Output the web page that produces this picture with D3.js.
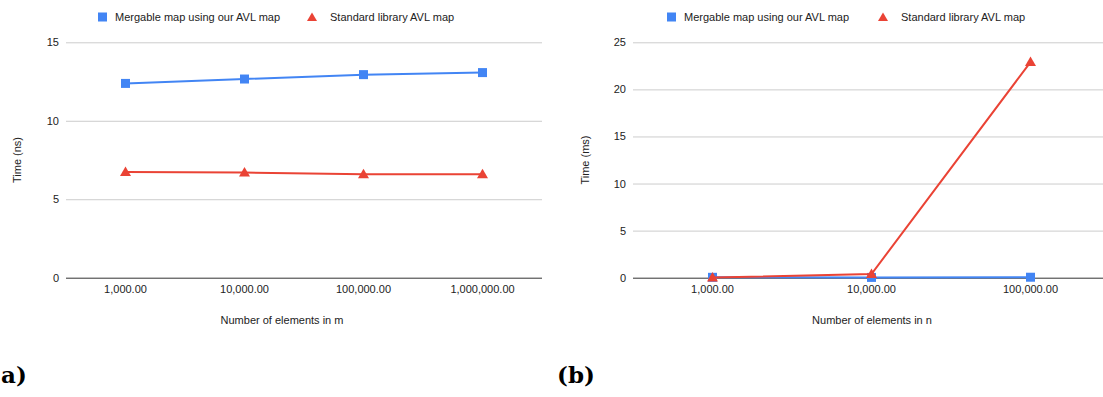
<!DOCTYPE html>
<html>
<head>
<meta charset="utf-8">
<script src="https://cdn.jsdelivr.net/npm/d3@7"></script>
<style>
  body { margin: 0; background: #fff; }
  text { font-family: "Liberation Sans", Arial, sans-serif; }
</style>
</head>
<body>
<script>
// series names, shared by both panels
const seriesNames = ["Mergable map using our AVL map", "Standard library AVL map"];
const seriesColours = ["#4285f4", "#ea4335"];

// panel a
const leftCategories = ["1,000.00", "10,000.00", "100,000.00", "1,000,000.00"];
const leftMergable = [12.38, 12.66, 12.94, 13.07];
const leftStandard = [6.73, 6.7, 6.59, 6.59];
const leftTicks = [0, 5, 10, 15];

// panel b
const rightCategories = ["1,000.00", "10,000.00", "100,000.00"];
const rightMergable = [0.04, 0.03, 0.05];
const rightStandard = [0.02, 0.39, 22.9];
const rightTicks = [0, 5, 10, 15, 20, 25];

const W = 1103, H = 397;

let svg = d3.select("body").append("svg")
    .attr("width", W)
    .attr("height", H);

function drawPanel(cfg) {

    let g = svg.append("g");

    let x = d3.scaleBand()
        .domain(cfg.categories)
        .range([cfg.x0, cfg.x1])
        .padding(0);

    let y = d3.scaleLinear()
        .domain([0, d3.max(cfg.ticks)])
        .range([277.7, 42.3]);

    //gridlines + y labels
    let yAxis = g.append("g")
        .attr("transform", "translate(" + cfg.x0 + ",0)")
        .call(d3.axisLeft(y)
            .tickValues(cfg.ticks)
            .tickSizeInner(-(cfg.gridEnd - cfg.x0))
            .tickSizeOuter(0)
            .tickPadding(7));
    yAxis.select(".domain").remove();
    yAxis.selectAll(".tick line")
        .attr("stroke", function (d) { return d === 0 ? "#333" : "#ccc"; })
        .attr("stroke-width", 1);
    yAxis.selectAll(".tick text")
        .attr("fill", "#222")
        .style("font-size", "11px");

    //x labels
    let xAxis = g.append("g")
        .attr("transform", "translate(0,277.7)")
        .call(d3.axisBottom(x).tickSize(0).tickPadding(8));
    xAxis.select(".domain").remove();
    xAxis.selectAll(".tick text")
        .attr("fill", "#222")
        .style("font-size", "11px");

    //axis titles
    g.append("text")
        .attr("x", cfg.titleX)
        .attr("y", 324)
        .attr("text-anchor", "middle")
        .attr("fill", "#222")
        .style("font-size", "11px")
        .text(cfg.xTitle);

    g.append("text")
        .attr("transform", "translate(" + cfg.yTitleX + ",160) rotate(-90)")
        .attr("text-anchor", "middle")
        .attr("dy", "0.35em")
        .attr("fill", "#222")
        .style("font-size", "11px")
        .text(cfg.yTitle);

    //series
    let cx = function (d, i) { return x(cfg.categories[i]) + x.bandwidth() / 2; };
    let line = d3.line()
        .x(cx)
        .y(function (d) { return y(d); });

    [cfg.mergable, cfg.standard].forEach(function (values, s) {
        g.append("path")
            .datum(values)
            .attr("fill", "none")
            .attr("stroke", seriesColours[s])
            .attr("stroke-width", 2)
            .attr("d", line);

        let marks = g.append("g").selectAll("path")
            .data(values)
            .enter()
            .append("path")
            .attr("fill", seriesColours[s])
            .attr("transform", function (d, i) {
                return "translate(" + cx(d, i) + "," + y(d) + ")";
            });
        if (s === 0) {
            marks.attr("d", d3.symbol(d3.symbolSquare, 81));
        } else {
            marks.attr("d", "M0,-5.5L5.5,4L-5.5,4Z");
        }
    });

    //legend
    let legend = g.append("g")
        .attr("transform", "translate(" + cfg.legendX + ",17)");
    legend.append("rect")
        .attr("x", 0).attr("y", -4.5)
        .attr("width", 9).attr("height", 9)
        .attr("fill", seriesColours[0]);
    legend.append("text")
        .attr("x", 17).attr("dy", "0.35em")
        .attr("fill", "#222")
        .style("font-size", "11px")
        .text(seriesNames[0]);
    legend.append("path")
        .attr("d", "M" + cfg.legendGap + ",-4.5L" + (cfg.legendGap + 5) + ",4L" + (cfg.legendGap - 5) + ",4Z")
        .attr("fill", seriesColours[1]);
    legend.append("text")
        .attr("x", cfg.legendGap + 18).attr("dy", "0.35em")
        .attr("fill", "#222")
        .style("font-size", "11px")
        .text(seriesNames[1]);

    //panel label
    svg.append("text")
        .attr("x", cfg.labelX)
        .attr("y", 383)
        .attr("fill", "#000")
        .style("font-family", "'DejaVu Serif', 'Liberation Serif', serif")
        .style("font-weight", "bold")
        .style("font-size", "23px")
        .text(cfg.label);
}

drawPanel({
    categories: leftCategories,
    mergable: leftMergable,
    standard: leftStandard,
    ticks: leftTicks,
    x0: 66, x1: 542, gridEnd: 542,
    titleX: 282, yTitleX: 17,
    xTitle: "Number of elements in m",
    yTitle: "Time (ns)",
    legendX: 98, legendGap: 214,
    label: "a)", labelX: 1
});

drawPanel({
    categories: rightCategories,
    mergable: rightMergable,
    standard: rightStandard,
    ticks: rightTicks,
    x0: 633, x1: 1110, gridEnd: 1110,
    titleX: 872, yTitleX: 585,
    xTitle: "Number of elements in n",
    yTitle: "Time (ms)",
    legendX: 667, legendGap: 216,
    label: "(b)", labelX: 557
});
</script>
</body>
</html>
